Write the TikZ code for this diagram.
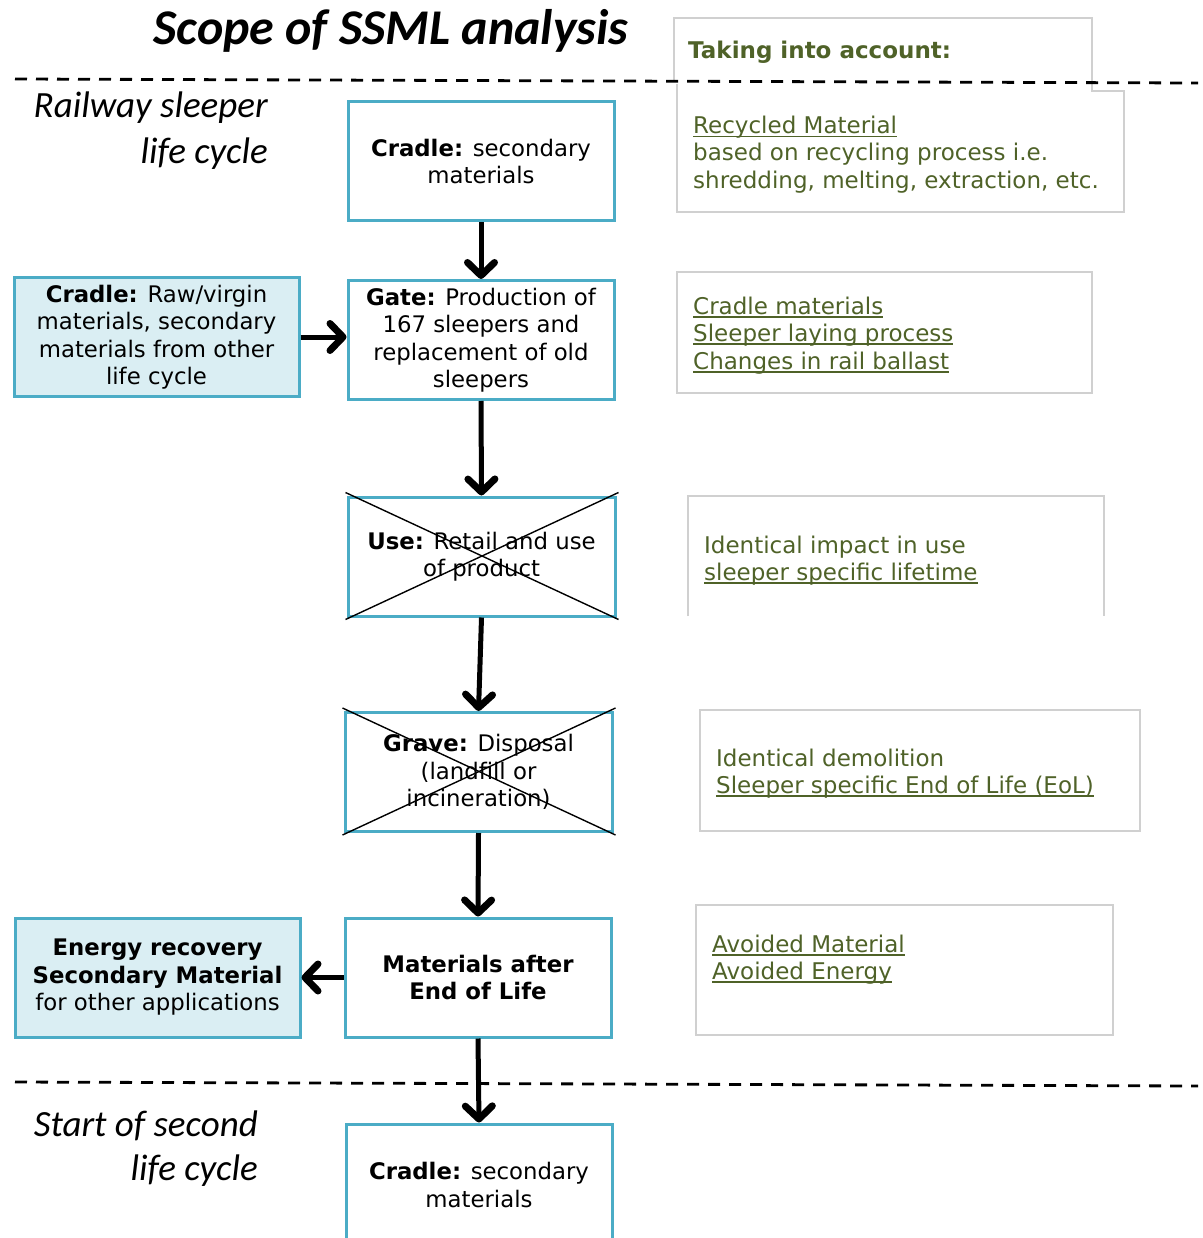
\documentclass[tikz,border=0pt]{standalone}
\usepackage{fontspec}
\setmainfont{DejaVu Sans}
\newfontfamily\carl{Carlito}
\usetikzlibrary{arrows.meta}
\definecolor{tealc}{RGB}{75,172,198}
\definecolor{lblue}{RGB}{218,238,243}
\definecolor{olivec}{RGB}{79,98,40}
\definecolor{framec}{RGB}{208,208,208}
\newcommand\gul[1]{\setbox0\hbox{#1}\rlap{\rule[-3.5pt]{\wd0}{1.4pt}}\box0}
\begin{document}
\begin{tikzpicture}[x=1pt,y=-1pt,
  mainbox/.style={draw=tealc, line width=3pt, fill=white, minimum width=266pt,
    minimum height=119pt, align=center, inner sep=0pt,
    font=\fontsize{22.8}{27.5}\selectfont},
  sidebox/.style={mainbox, fill=lblue, minimum width=285pt},
  arr/.style={line width=5pt, -{Straight Barb[length=13pt,width=27pt,line width=7pt,round]}},
  cross/.style={line width=1.4pt, black},
  frame/.style={draw=framec, line width=1.2pt},
  gline/.style={anchor=west, inner sep=0pt, text=olivec, text height=17pt, text depth=5pt,
    font=\fontsize{23}{27.5}\selectfont},
  divider/.style={line width=2.8pt, dash pattern=on 12pt off 9pt},
  side/.style={anchor=east, inner sep=0pt, font=\carl\itshape\fontsize{37}{40}\selectfont}
]
\clip (0,0) rectangle (1202,1238);
\fill[white] (0,0) rectangle (1202,1238);

% title and side labels
\node[inner sep=0pt, font=\carl\bfseries\itshape\fontsize{50}{55}\selectfont] (title) at (391,31) {Scope of SSML analysis};
\node[side] (rs1) at (268,108) {Railway sleeper};
\node[side] (rs2) at (268,154) {life cycle};
\node[side] (sc1) at (258,1126) {Start of second};
\node[side] (sc2) at (258,1171) {life cycle};

% right-hand frames
\draw[frame, fill=white] (677,84) -- (677,212) -- (1124,212) -- (1124,91) -- (1092,91) -- (1092,18) -- (674,18) -- (674,80);
\draw[frame] (677,272) rectangle (1092,393);
\draw[frame] (688,616) -- (688,496) -- (1104,496) -- (1104,616);
\draw[frame] (700,710) rectangle (1140,831);
\draw[frame] (696,905) rectangle (1113,1035);

% right-hand texts
\node[gline, font=\bfseries\fontsize{23}{27.5}\selectfont] (tia) at (688,53) {Taking into account:};
\node[gline] (r1a) at (693,128) {\gul{Recycled Material}};
\node[gline] (r1b) at (693,155) {based on recycling process i.e.};
\node[gline] (r1c) at (693,183) {shredding, melting, extraction, etc.};
\node[gline] (r2a) at (693,308) {\gul{Cradle materials}};
\node[gline] (r2b) at (693,335) {\gul{Sleeper laying process}};
\node[gline] (r2c) at (693,363) {\gul{Changes in rail ballast}};
\node[gline] (r3a) at (704,547) {Identical impact in use};
\node[gline] (r3b) at (704,574) {\gul{sleeper specific lifetime}};
\node[gline] (r4a) at (716,760) {Identical demolition};
\node[gline] (r4b) at (716,787) {\gul{Sleeper specific End of Life (EoL)}};
\node[gline] (r5a) at (712,946) {\gul{Avoided Material}};
\node[gline] (r5b) at (712,973) {\gul{Avoided Energy}};

% dividers
\coordinate (d1a) at (15,79);
\coordinate (d1b) at (1198,83);
\coordinate (d2a) at (15,1082);
\coordinate (d2b) at (1198,1086);
\draw[divider] (d1a) -- (d1b);
\draw[divider] (d2a) -- (d2b);

% main flow boxes
\node[mainbox] (c1) at (481,161.5) {\textbf{Cradle:} secondary\\materials};
\node[mainbox] (gate) at (481,340) {\textbf{Gate:} Production of\\167 sleepers and\\replacement of old\\sleepers};
\node[sidebox] (raw) at (156.5,337) {\textbf{Cradle:} Raw/virgin\\materials, secondary\\materials from other\\life cycle};
\node[mainbox, minimum width=267pt] (use) at (481.5,556.5) {\textbf{Use:} Retail and use\\of product};
\node[mainbox, minimum width=267pt] (grave) at (478.5,772) {\textbf{Grave:} Disposal\\(landfill or\\incineration)};
\node[mainbox] (mat) at (478,977.5) {\textbf{Materials after}\\\textbf{End of Life}};
\node[sidebox] (en) at (157.5,977.5) {\textbf{Energy recovery}\\\textbf{Secondary Material}\\for other applications};
\node[mainbox, minimum height=122pt] (c2) at (479,1185) {\textbf{Cradle:} secondary\\materials};

% crosses
\draw[cross] ([shift={(-1,-3)}]use.north west) -- ([shift={(2,2)}]use.south east);
\draw[cross] ([shift={(-1,2)}]use.south west) -- ([shift={(2,-3)}]use.north east);
\draw[cross] ([shift={(-1,-3)}]grave.north west) -- ([shift={(2,2)}]grave.south east);
\draw[cross] ([shift={(-1,2)}]grave.south west) -- ([shift={(2,-3)}]grave.north east);

% arrows
\draw[arr] (c1.south) -- (gate.north);
\draw[arr] (raw.east) -- (raw.east -| gate.west);
\draw[arr] (gate.south) -- (use.north);
\draw[arr] (use.south) -- (grave.north);
\draw[arr] (grave.south) -- (mat.north);
\draw[arr] (mat.west) -- (mat.west -| en.east);
\draw[arr] (mat.south) -- (c2.north);
\end{tikzpicture}
\end{document}
